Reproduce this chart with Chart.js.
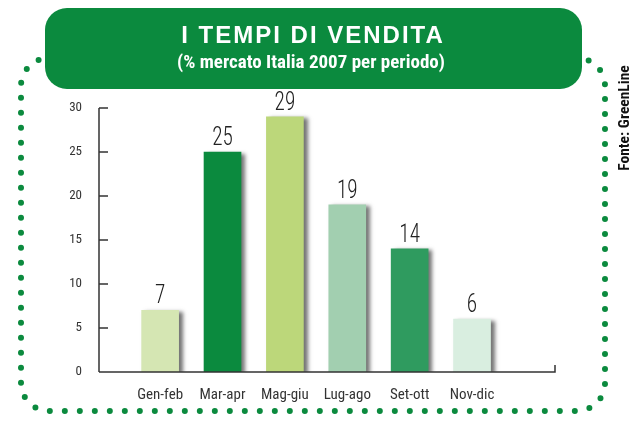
<!DOCTYPE html>
<html>
<head>
<meta charset="utf-8">
<script src="https://cdn.jsdelivr.net/npm/chart.js@4"></script>
<style>
  html, body { margin: 0; padding: 0; background: #fff; }
  #wrap { position: relative; width: 640px; height: 429px; }
  canvas { position: absolute; left: 0; top: 0; }
</style>
</head>
<body>
<div id="wrap"><canvas id="grafico" width="640" height="429"></canvas></div>
<script>
// dati del grafico
const periodi = ['Gen-feb', 'Mar-apr', 'Mag-giu', 'Lug-ago', 'Set-ott', 'Nov-dic'];
const quote = [7, 25, 29, 19, 14, 6];
const coloriBarre = ['#d5e6b3', '#0b8a3e', '#bcd77a', '#a2cfb0', '#2f9b5f', '#d9eee0'];
const tickY = [0, 5, 10, 15, 20, 25, 30];
const titolo = 'I TEMPI DI VENDITA';
const sottotitolo = '(% mercato Italia 2007 per periodo)';
const fonte = 'Fonte: GreenLine';

const VERDE = '#0b8a3e';
const NARROW = '"Roboto Condensed", "Open Sans Condensed", sans-serif';

// cornice, box del titolo e fonte
const cornice = {
    id: 'cornice',
    beforeDraw(chart) {
        const ctx = chart.ctx;
        ctx.save();
        ctx.strokeStyle = VERDE;
        ctx.lineWidth = 6;
        ctx.lineCap = 'round';
        ctx.setLineDash([0, 15]);
        ctx.beginPath();
        ctx.roundRect(21, 58, 584, 353, 28);
        ctx.stroke();
        ctx.setLineDash([]);

        ctx.fillStyle = VERDE;
        ctx.beginPath();
        ctx.roundRect(45, 8, 537, 81, 22);
        ctx.fill();

        ctx.fillStyle = '#fff';
        ctx.textAlign = 'center';
        ctx.textBaseline = 'middle';
        ctx.font = 'bold 24px "Liberation Sans", Arial, sans-serif';
        ctx.letterSpacing = '2px';
        ctx.fillText(titolo, 313, 36);
        ctx.letterSpacing = '0px';
        ctx.font = 'bold 19px ' + NARROW;
        ctx.fillText(sottotitolo, 311, 63);

        ctx.translate(625, 118);
        ctx.rotate(-Math.PI / 2);
        ctx.fillStyle = '#111';
        ctx.font = 'bold 15.5px ' + NARROW;
        ctx.fillText(fonte, 0, 0);
        ctx.restore();
    }
};

// ombra delle barre
const ombra = {
    id: 'ombra',
    beforeDatasetsDraw(chart) {
        const ctx = chart.ctx;
        ctx.save();
        ctx.shadowColor = 'rgba(0,0,0,0.55)';
        ctx.shadowBlur = 4;
        ctx.shadowOffsetX = 4;
        ctx.shadowOffsetY = 2;
    },
    afterDatasetsDraw(chart) {
        chart.ctx.restore();
    }
};

// valori sopra le barre, tacche interne e assi
const extra = {
    id: 'extra',
    afterDraw(chart) {
        const ctx = chart.ctx;
        const y = chart.scales.y;
        const area = chart.chartArea;
        ctx.save();
        ctx.strokeStyle = '#333';
        ctx.lineWidth = 1.5;
        ctx.beginPath();
        tickY.forEach(v => {
            const py = y.getPixelForValue(v);
            ctx.moveTo(area.left, py);
            ctx.lineTo(area.left + 9, py);
        });
        ctx.moveTo(area.left, y.getPixelForValue(30));
        ctx.lineTo(area.left, y.getPixelForValue(0));
        const base = y.getPixelForValue(0);
        ctx.moveTo(area.left, base);
        ctx.lineTo(area.right, base);
        ctx.lineTo(area.right, base - 7);
        ctx.stroke();

        ctx.fillStyle = '#222';
        ctx.font = '300 25px ' + NARROW;
        ctx.textAlign = 'center';
        ctx.textBaseline = 'bottom';
        chart.getDatasetMeta(0).data.forEach((bar, i) => {
            ctx.save();
            ctx.translate(bar.x, bar.y - 1);
            ctx.scale(0.85, 1);
            ctx.fillText(String(quote[i]), 0, 0);
            ctx.restore();
        });
        ctx.restore();
    }
};

new Chart(document.getElementById('grafico').getContext('2d'), {
    type: 'bar',
    data: {
        datasets: [{
            data: quote.map((v, i) => ({ x: i, y: v })),
            backgroundColor: coloriBarre,
            barThickness: 37,
            borderWidth: 0
        }]
    },
    options: {
        responsive: false,
        animation: false,
        layout: { padding: { left: 0, top: 108, right: 85, bottom: 12 } },
        plugins: { legend: { display: false }, tooltip: { enabled: false } },
        scales: {
            x: {
                type: 'linear',
                offset: false,
                min: -0.98,
                max: 6.33,
                grid: { display: false },
                border: { display: false },
                afterBuildTicks: s => { s.ticks = periodi.map((p, i) => ({ value: i })); },
                afterFit: s => { s.height = 45; },
                ticks: {
                    autoSkip: false,
                    maxRotation: 0,
                    padding: 6,
                    color: '#333',
                    font: { family: NARROW, size: 15 },
                    callback: v => periodi[v]
                }
            },
            y: {
                min: 0,
                max: 30,
                grid: { display: false },
                border: { display: false },
                afterBuildTicks: s => { s.ticks = tickY.map(v => ({ value: v })); },
                afterFit: s => { s.width = 99; },
                ticks: {
                    padding: 9,
                    color: '#333',
                    font: { family: NARROW, size: 13 }
                }
            }
        }
    },
    plugins: [cornice, ombra, extra]
});
</script>
</body>
</html>
